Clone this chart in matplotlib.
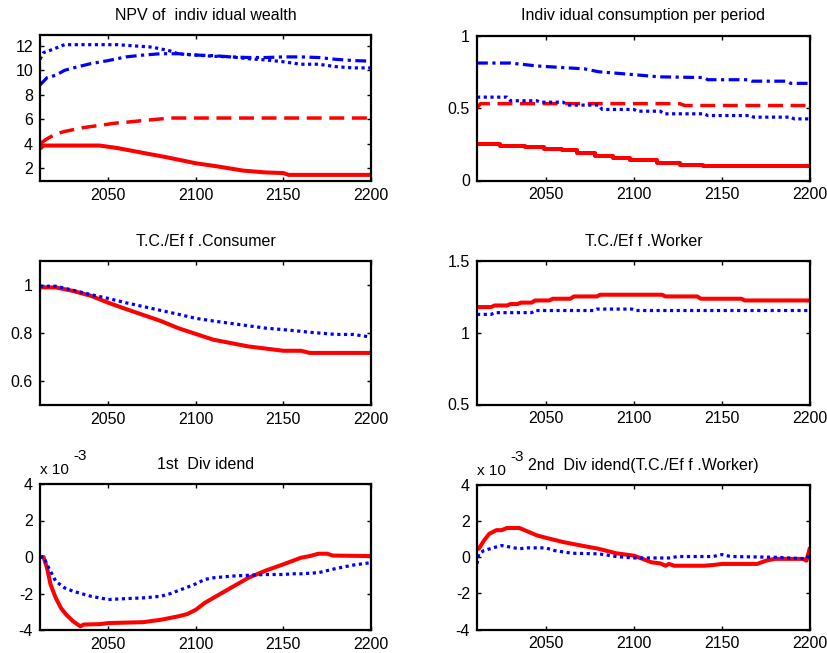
import matplotlib
matplotlib.use('Agg')
import matplotlib.pyplot as plt

plt.rcParams['font.family'] = ['Liberation Sans', 'DejaVu Sans']
plt.rcParams['font.size'] = 11.5
plt.rcParams['axes.unicode_minus'] = False

# ---- NPV of individual wealth ----
npv_red_solid_yr = [2011, 2013, 2045, 2055, 2068, 2083, 2100, 2112, 2127, 2140, 2150, 2153, 2200]
npv_red_solid = [3.6, 3.85, 3.85, 3.65, 3.3, 2.9, 2.4, 2.15, 1.8, 1.65, 1.6, 1.45, 1.45]
npv_red_dash_yr = [2011, 2015, 2020, 2025, 2035, 2045, 2055, 2060, 2070, 2078, 2085, 2200]
npv_red_dash = [4.0, 4.4, 4.8, 5.0, 5.3, 5.5, 5.7, 5.75, 5.9, 6.0, 6.1, 6.1]
npv_blue_dot_yr = [2011, 2013, 2018, 2025, 2055, 2065, 2075, 2085, 2090, 2100, 2110, 2120,
                   2130, 2140, 2150, 2160, 2170, 2180, 2190, 2200]
npv_blue_dot = [10.9, 11.45, 11.7, 12.1, 12.1, 12.0, 11.9, 11.6, 11.35, 11.25, 11.15, 11.1,
                10.95, 10.85, 10.7, 10.5, 10.5, 10.3, 10.2, 10.2]
npv_blue_dd_yr = [2011, 2015, 2020, 2025, 2030, 2040, 2050, 2060, 2070, 2080, 2090, 2100, 2110,
                  2120, 2130, 2140, 2150, 2160, 2170, 2180, 2190, 2200]
npv_blue_dd = [8.8, 9.4, 9.6, 10.0, 10.2, 10.55, 10.8, 11.1, 11.25, 11.36, 11.36, 11.25, 11.2,
               11.1, 11.05, 11.05, 11.1, 11.1, 11.05, 10.9, 10.8, 10.75]

# ---- Individual consumption per period ----
cons_red_solid_yr = [2011, 2024, 2024, 2038, 2038, 2049, 2049, 2059, 2059, 2068, 2068, 2078, 2078,
                     2088, 2088, 2098, 2098, 2113, 2113, 2126, 2126, 2139, 2139, 2200]
cons_red_solid = [0.253, 0.253, 0.241, 0.241, 0.23, 0.23, 0.218, 0.218, 0.207, 0.207, 0.19, 0.19,
                  0.172, 0.172, 0.156, 0.156, 0.138, 0.138, 0.122, 0.122, 0.108, 0.108, 0.097, 0.097]
cons_red_dash_yr = [2011, 2013, 2126, 2129, 2200]
cons_red_dash = [0.5, 0.53, 0.53, 0.517, 0.517]
cons_blue_dot_yr = [2011, 2028, 2030, 2045, 2047, 2060, 2062, 2080, 2082, 2100, 2102, 2115, 2117,
                    2140, 2142, 2166, 2168, 2189, 2191, 2200]
cons_blue_dot = [0.575, 0.575, 0.55, 0.55, 0.54, 0.54, 0.52, 0.52, 0.49, 0.49, 0.478, 0.478, 0.46,
                 0.46, 0.448, 0.448, 0.437, 0.437, 0.425, 0.425]
cons_blue_dd_yr = [2011, 2030, 2045, 2058, 2072, 2080, 2090, 2100, 2114, 2140, 2142, 2165, 2167,
                   2187, 2189, 2200]
cons_blue_dd = [0.81, 0.81, 0.79, 0.78, 0.77, 0.75, 0.74, 0.73, 0.715, 0.71, 0.695, 0.695, 0.685,
                0.685, 0.67, 0.67]

# ---- T.C./Eff.Consumer ----
tcc_yr = [2011, 2020, 2030, 2040, 2050, 2060, 2070, 2080, 2090, 2100, 2110, 2120, 2130, 2140,
          2150, 2160, 2165, 2170, 2180, 2190, 2200]
tcc_red = [0.99, 0.99, 0.975, 0.955, 0.926, 0.9, 0.875, 0.85, 0.82, 0.796, 0.772, 0.758, 0.744,
           0.735, 0.726, 0.726, 0.717, 0.717, 0.717, 0.717, 0.717]
tcc_blue = [0.995, 0.995, 0.978, 0.96, 0.944, 0.926, 0.91, 0.894, 0.878, 0.861, 0.85, 0.84, 0.83,
            0.82, 0.814, 0.807, 0.803, 0.8, 0.794, 0.794, 0.783]

# ---- T.C./Eff.Worker ----
tcw_red_yr = [2011, 2019, 2021, 2028, 2030, 2034, 2036, 2042, 2044, 2052, 2054, 2064, 2066, 2079,
              2081, 2116, 2118, 2136, 2138, 2161, 2163, 2200]
tcw_red = [1.179, 1.179, 1.19, 1.19, 1.2, 1.2, 1.21, 1.21, 1.225, 1.225, 1.237, 1.237, 1.253,
           1.253, 1.265, 1.265, 1.253, 1.253, 1.237, 1.237, 1.225, 1.225]
tcw_blue_yr = [2011, 2019, 2021, 2042, 2044, 2077, 2079, 2099, 2101, 2200]
tcw_blue = [1.128, 1.128, 1.14, 1.14, 1.155, 1.155, 1.165, 1.165, 1.155, 1.155]

# ---- 1st Dividend (x 1e-3) ----
div1_red_yr = [2011, 2013, 2015, 2017, 2020, 2023, 2026, 2030, 2034, 2036, 2045, 2050, 2070, 2080,
               2090, 2095, 2100, 2105, 2110, 2120, 2130, 2140, 2150, 2155, 2160, 2165, 2170, 2175,
               2178, 2200]
div1_red = [0.0, 0.0, -0.6, -1.5, -2.24, -2.8, -3.16, -3.53, -3.8, -3.7, -3.68, -3.62, -3.57,
            -3.44, -3.25, -3.13, -2.89, -2.52, -2.24, -1.69, -1.14, -0.74, -0.4, -0.22, -0.04,
            0.05, 0.18, 0.18, 0.08, 0.05]
div1_blue_yr = [2011, 2013, 2016, 2020, 2025, 2030, 2040, 2050, 2060, 2070, 2080, 2085, 2090, 2095,
                2100, 2105, 2110, 2120, 2130, 2140, 2150, 2155, 2160, 2170, 2180, 2190, 2200]
div1_blue = [0.0, 0.0, -0.6, -1.33, -1.69, -1.88, -2.15, -2.33, -2.28, -2.24, -2.15, -2.02, -1.84,
             -1.66, -1.47, -1.23, -1.14, -1.05, -1.0, -0.96, -0.96, -0.92, -0.92, -0.86, -0.63,
             -0.44, -0.31]

# ---- 2nd Dividend (x 1e-3) ----
div2_red_yr = [2011, 2012, 2015, 2018, 2022, 2025, 2028, 2035, 2038, 2045, 2050, 2060, 2070, 2080,
               2090, 2100, 2105, 2110, 2115, 2118, 2120, 2123, 2140, 2145, 2150, 2170, 2175, 2180,
               2196, 2198, 2200]
div2_red = [0.55, 0.47, 0.93, 1.3, 1.5, 1.5, 1.62, 1.62, 1.5, 1.21, 1.08, 0.84, 0.65, 0.47, 0.22,
            0.09, -0.09, -0.28, -0.34, -0.47, -0.37, -0.47, -0.47, -0.43, -0.37, -0.37, -0.19,
            -0.09, -0.09, -0.19, 0.55]
div2_blue_yr = [2011, 2012, 2015, 2020, 2025, 2030, 2035, 2040, 2050, 2055, 2065, 2080, 2090, 2100,
                2120, 2125, 2145, 2150, 2155, 2180, 2198, 2200]
div2_blue = [-0.37, 0.19, 0.37, 0.52, 0.65, 0.56, 0.47, 0.52, 0.52, 0.37, 0.22, 0.19, 0.04, -0.04,
             -0.04, 0.04, 0.04, 0.15, 0.04, 0.0, -0.09, 0.28]

# Line styles (MATLAB-like)
RED = (1, 0, 0)
BLUE = (0, 0, 1)
solid = dict(color=RED, lw=2.9, solid_capstyle='butt')
dashed = dict(color=RED, lw=2.5, linestyle=(0, (4.3, 2.2)))
dotted = dict(color=BLUE, lw=2.3, linestyle=(0, (1, 1.1)))
dashdot = dict(color=BLUE, lw=2.3, linestyle=(0, (3.4, 1.4, 1, 1.4)))
TITLE_SIZE = 11.5

fig = plt.figure(figsize=(8.28, 6.53), dpi=100)

W, H = 828.0, 653.0
def add_axes(left, top, right, bottom):
    return fig.add_axes([left / W, 1 - bottom / H, (right - left) / W, (bottom - top) / H])

ax1 = add_axes(40, 35.5, 371, 181)
ax2 = add_axes(477, 35.5, 810, 180.5)
ax3 = add_axes(40, 261, 371, 405)
ax4 = add_axes(477, 261, 810, 404.5)
ax5 = add_axes(40, 484, 371, 630)
ax6 = add_axes(477, 485, 810, 629.5)

ax1.plot(npv_red_solid_yr, npv_red_solid, **solid)
ax1.plot(npv_red_dash_yr, npv_red_dash, **dashed)
ax1.plot(npv_blue_dot_yr, npv_blue_dot, **dotted)
ax1.plot(npv_blue_dd_yr, npv_blue_dd, **dashdot)
ax1.set_ylim(0.95, 12.85)
ax1.set_yticks([2, 4, 6, 8, 10, 12])
ax1.set_title('NPV of  indiv idual wealth', pad=11, fontsize=TITLE_SIZE)

ax2.plot(cons_red_solid_yr, cons_red_solid, **solid)
ax2.plot(cons_red_dash_yr, cons_red_dash, **dashed)
ax2.plot(cons_blue_dot_yr, cons_blue_dot, **dotted)
ax2.plot(cons_blue_dd_yr, cons_blue_dd, **dashdot)
ax2.set_ylim(0, 1)
ax2.set_yticks([0, 0.5, 1])
ax2.set_yticklabels(['0', '0.5', '1'])
ax2.set_title('Indiv idual consumption per period', pad=11, fontsize=TITLE_SIZE)

ax3.plot(tcc_yr, tcc_red, **solid)
ax3.plot(tcc_yr, tcc_blue, **dotted)
ax3.set_ylim(0.5, 1.1)
ax3.set_yticks([0.6, 0.8, 1])
ax3.set_yticklabels(['0.6', '0.8', '1'])
ax3.set_title('T.C./Ef f .Consumer', pad=11, fontsize=TITLE_SIZE)

ax4.plot(tcw_red_yr, tcw_red, **solid)
ax4.plot(tcw_blue_yr, tcw_blue, **dotted)
ax4.set_ylim(0.5, 1.5)
ax4.set_yticks([0.5, 1, 1.5])
ax4.set_yticklabels(['0.5', '1', '1.5'])
ax4.set_title('T.C./Ef f .Worker', pad=11, fontsize=TITLE_SIZE)

ax5.plot(div1_red_yr, div1_red, **solid)
ax5.plot(div1_blue_yr, div1_blue, **dotted)
ax5.set_ylim(-4, 4)
ax5.set_yticks([-4, -2, 0, 2, 4])
ax5.set_title('1st  Div idend', pad=11, fontsize=TITLE_SIZE)

ax6.plot(div2_red_yr, div2_red, **solid)
ax6.plot(div2_blue_yr, div2_blue, **dotted)
ax6.set_ylim(-4, 4)
ax6.set_yticks([-4, -2, 0, 2, 4])
ax6.set_title('2nd  Div idend(T.C./Ef f .Worker)', pad=11, fontsize=TITLE_SIZE)

# exponent labels above the dividend panels
for ax in (ax5, ax6):
    ax.text(0.0, 1.045, 'x 10', transform=ax.transAxes, ha='left', va='bottom', fontsize=11)
    ax.text(0.1, 1.145, '-3', transform=ax.transAxes, ha='left', va='bottom', fontsize=11)

for ax in (ax1, ax2, ax3, ax4, ax5, ax6):
    ax.set_xlim(2011, 2200)
    ax.set_xticks([2050, 2100, 2150, 2200])
    ax.tick_params(direction='in', length=3, width=1, top=True, right=True,
                   labelsize=11.5, pad=5, colors='black')
    for s in ax.spines.values():
        s.set_linewidth(1.6)

fig.savefig('out.png', dpi=100)
